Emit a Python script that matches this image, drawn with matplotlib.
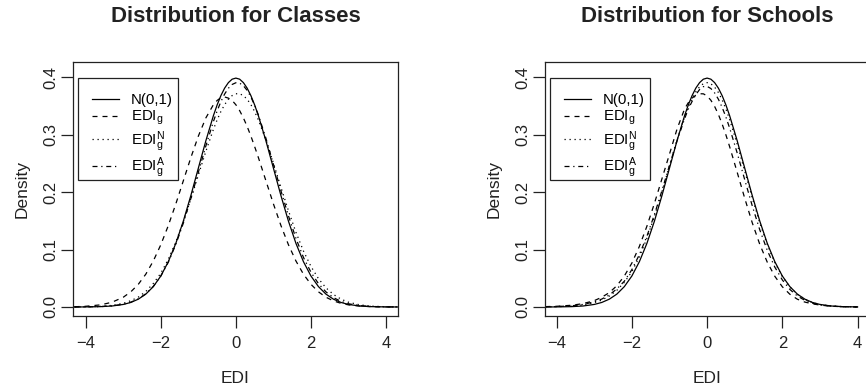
import matplotlib
matplotlib.use("Agg")
import matplotlib.pyplot as plt
from matplotlib.patches import Rectangle

plt.rcParams['font.family'] = ['Liberation Sans', 'DejaVu Sans']
plt.rcParams['mathtext.default'] = 'regular'

# ---- data ----
classes_x = [-4.3, -4.0, -3.6, -3.3, -3.0, -2.8, -2.6, -2.4, -2.2, -2.0, -1.8, -1.6, -1.4,
             -1.2, -1.0, -0.8, -0.6, -0.5, -0.4, -0.3, -0.2, -0.1, 0.0, 0.1, 0.2, 0.3, 0.4,
             0.5, 0.6, 0.8, 1.0, 1.2, 1.4, 1.6, 1.8, 2.0, 2.2, 2.4, 2.6, 2.8, 3.0, 3.3,
             3.6, 4.0, 4.3]
classes_norm = [0.0000, 0.0001, 0.0006, 0.0017, 0.0044, 0.0079, 0.0136, 0.0224, 0.0355,
                0.0540, 0.0790, 0.1109, 0.1497, 0.1942, 0.2420, 0.2897, 0.3332, 0.3521,
                0.3683, 0.3814, 0.3910, 0.3970, 0.3989, 0.3970, 0.3910, 0.3814, 0.3683,
                0.3521, 0.3332, 0.2897, 0.2420, 0.1942, 0.1497, 0.1109, 0.0790, 0.0540,
                0.0355, 0.0224, 0.0136, 0.0079, 0.0044, 0.0017, 0.0006, 0.0001, 0.0000]
classes_edi = [0.0004, 0.0012, 0.0037, 0.0083, 0.0170, 0.0264, 0.0395, 0.0572, 0.0802,
               0.1085, 0.1420, 0.1797, 0.2200, 0.2603, 0.2978, 0.3295, 0.3524, 0.3599,
               0.3648, 0.3660, 0.3640, 0.3599, 0.3524, 0.3422, 0.3295, 0.3146, 0.2978,
               0.2795, 0.2603, 0.2200, 0.1797, 0.1420, 0.1085, 0.0802, 0.0572, 0.0395,
               0.0264, 0.0170, 0.0106, 0.0064, 0.0037, 0.0016, 0.0006, 0.0002, 0.0001]
classes_edi_n = [0.0001, 0.0003, 0.0011, 0.0028, 0.0064, 0.0109, 0.0172, 0.0270, 0.0410,
                 0.0588, 0.0833, 0.1134, 0.1486, 0.1880, 0.2299, 0.2713, 0.3093, 0.3260,
                 0.3406, 0.3526, 0.3620, 0.3684, 0.3716, 0.3716, 0.3684, 0.3620, 0.3527,
                 0.3405, 0.3259, 0.2909, 0.2508, 0.2087, 0.1679, 0.1302, 0.0976, 0.0707,
                 0.0494, 0.0334, 0.0218, 0.0137, 0.0083, 0.0037, 0.0015, 0.0004, 0.0001]
classes_edi_a = [0.0000, 0.0002, 0.0007, 0.0019, 0.0047, 0.0083, 0.0141, 0.0230, 0.0359,
                 0.0540, 0.0782, 0.1091, 0.1462, 0.1889, 0.2348, 0.2807, 0.3230, 0.3416,
                 0.3578, 0.3711, 0.3812, 0.3878, 0.3908, 0.3901, 0.3856, 0.3775, 0.3660,
                 0.3516, 0.3345, 0.2941, 0.2487, 0.2026, 0.1589, 0.1196, 0.0864, 0.0606,
                 0.0407, 0.0263, 0.0163, 0.0098, 0.0056, 0.0023, 0.0009, 0.0002, 0.0001]

schools_x = [-4.3, -4.0, -3.6, -3.3, -3.0, -2.8, -2.6, -2.4, -2.2, -2.0, -1.8, -1.6, -1.4,
             -1.2, -1.0, -0.8, -0.6, -0.5, -0.4, -0.3, -0.2, -0.1, 0.0, 0.1, 0.2, 0.3, 0.4,
             0.5, 0.6, 0.8, 1.0, 1.2, 1.4, 1.6, 1.8, 2.0, 2.2, 2.4, 2.6, 2.8, 3.0, 3.3,
             3.6, 4.0]
schools_norm = [0.0000, 0.0001, 0.0006, 0.0017, 0.0044, 0.0079, 0.0136, 0.0224, 0.0355,
                0.0540, 0.0790, 0.1109, 0.1497, 0.1942, 0.2420, 0.2897, 0.3332, 0.3521,
                0.3683, 0.3814, 0.3910, 0.3970, 0.3989, 0.3970, 0.3910, 0.3814, 0.3683,
                0.3521, 0.3332, 0.2897, 0.2420, 0.1942, 0.1497, 0.1109, 0.0790, 0.0540,
                0.0355, 0.0224, 0.0136, 0.0079, 0.0044, 0.0017, 0.0006, 0.0001]
schools_edi = [0.0006, 0.0012, 0.0030, 0.0058, 0.0110, 0.0170, 0.0250, 0.0370, 0.0540,
               0.0765, 0.1056, 0.1408, 0.1806, 0.2235, 0.2664, 0.3100, 0.3450, 0.3560,
               0.3640, 0.3690, 0.3716, 0.3715, 0.3678, 0.3603, 0.3495, 0.3355, 0.3188,
               0.2999, 0.2792, 0.2347, 0.1895, 0.1468, 0.1092, 0.0780, 0.0535, 0.0352,
               0.0222, 0.0135, 0.0085, 0.0055, 0.0033, 0.0013, 0.0005, 0.0001]
schools_edi_n = [0.0003, 0.0005, 0.0015, 0.0035, 0.0075, 0.0120, 0.0190, 0.0290, 0.0430,
                 0.0615, 0.0874, 0.1198, 0.1580, 0.2009, 0.2462, 0.2909, 0.3311, 0.3483,
                 0.3631, 0.3750, 0.3838, 0.3892, 0.3910, 0.3890, 0.3832, 0.3738, 0.3609,
                 0.3451, 0.3265, 0.2839, 0.2371, 0.1903, 0.1467, 0.1087, 0.0774, 0.0529,
                 0.0348, 0.0219, 0.0133, 0.0077, 0.0043, 0.0017, 0.0006, 0.0001]
schools_edi_a = [0.0004, 0.0007, 0.0020, 0.0044, 0.0089, 0.0138, 0.0209, 0.0315, 0.0449,
                 0.0651, 0.0913, 0.1234, 0.1611, 0.2029, 0.2467, 0.2895, 0.3278, 0.3450,
                 0.3582, 0.3700, 0.3790, 0.3840, 0.3845, 0.3807, 0.3731, 0.3621, 0.3479,
                 0.3310, 0.3117, 0.2683, 0.2218, 0.1763, 0.1345, 0.0986, 0.0695, 0.0471,
                 0.0306, 0.0191, 0.0115, 0.0066, 0.0037, 0.0014, 0.0005, 0.0001]

titles = ['Distribution for Classes', 'Distribution for Schools']
legend_labels = ['N(0,1)', r'$EDI_g$', r'$EDI_g^N$', r'$EDI_g^A$']
x_ticks = [-4, -2, 0, 2, 4]
y_ticks = [0.0, 0.1, 0.2, 0.3, 0.4]

styles = ['-', (0, (4, 4)), (0, (1, 3)), (0, (4, 3, 1, 3))]
lw = 0.9

fig = plt.figure(figsize=(8.66, 3.89), dpi=100)
ax_l = fig.add_axes([0.0843, 0.1877, 0.3753, 0.6530])
ax_r = fig.add_axes([0.6293, 0.1877, 0.3753, 0.6530])

panels = [
    (ax_l, classes_x, [classes_norm, classes_edi, classes_edi_n, classes_edi_a], (-4.34, 4.32)),
    (ax_r, schools_x, [schools_norm, schools_edi, schools_edi_n, schools_edi_a], (-4.31, 4.33)),
]

for (ax, xs, series, xlim), title in zip(panels, titles):
    handles = []
    for ys, ls in zip(series, styles):
        h, = ax.plot(xs, ys, color='black', linestyle=ls, linewidth=lw)
        handles.append(h)
    ax.set_xlim(*xlim)
    ax.set_ylim(-0.0157, 0.427)
    ax.set_xticks(x_ticks)
    ax.set_xticklabels([f'{t}'.replace('-', '\u2212') for t in x_ticks])
    ax.set_yticks(y_ticks)
    ax.set_yticklabels([f'{t:.1f}' for t in y_ticks], rotation=90, va='center')
    ax.tick_params(axis='x', pad=6)
    ax.tick_params(axis='y', pad=2)
    ax.tick_params(direction='out', length=8.6, width=0.9, labelsize=12, colors='#222222')
    for sp in ax.spines.values():
        sp.set_linewidth(0.9)
        sp.set_color('#222222')
    ax.set_xlabel('EDI', fontsize=12.5, labelpad=14, color='#222222')
    ax.set_ylabel('Density', fontsize=12.5, labelpad=10, color='#222222')
    ax.set_title(title, fontsize=16, fontweight='bold', pad=29, color='#222222')

    # legend box drawn separately (R-style box), entries without frame
    ax.add_patch(Rectangle((0.0154, 0.5354), 0.3077, 0.4016, transform=ax.transAxes,
                           fill=False, edgecolor='#222222', linewidth=0.9, zorder=5))
    ax.legend(handles, legend_labels, loc='upper left', bbox_to_anchor=(0.0246, 0.921),
              borderaxespad=0, fontsize=10.8, frameon=False,
              handlelength=1.8, handletextpad=0.8, borderpad=0.75, labelspacing=0.12)

fig.savefig('out.png', dpi=100)
